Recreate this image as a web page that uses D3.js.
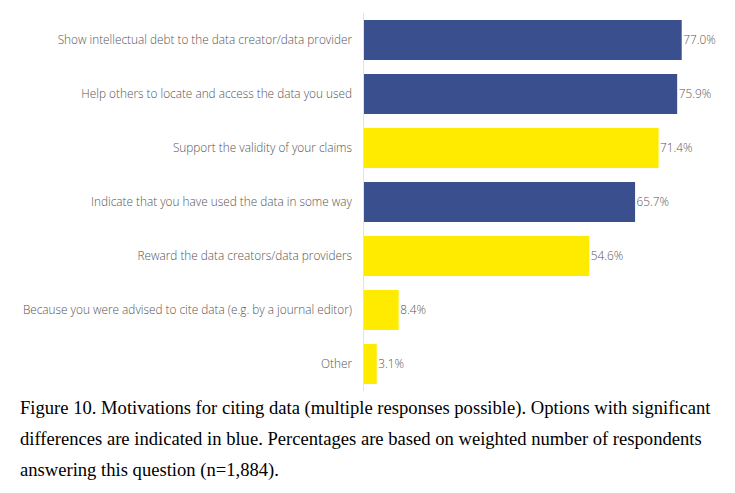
<!DOCTYPE html>
<html>
<head>
<meta charset="utf-8">
<script src="https://cdn.jsdelivr.net/npm/d3@7"></script>
<style>
  body { margin: 0; background: #fff; }
</style>
</head>
<body>
<div id="chart"></div>
<script>
// Motivations for citing data
const categories = [
  "Show intellectual debt to the data creator/data provider",
  "Help others to locate and access the data you used",
  "Support the validity of your claims",
  "Indicate that you have used the data in some way",
  "Reward the data creators/data providers",
  "Because you were advised to cite data (e.g. by a journal editor)",
  "Other"
];
const values = [77.0, 75.9, 71.4, 65.7, 54.6, 8.4, 3.1];
// true = significant difference (shown in blue)
const significant = [true, true, false, true, false, false, false];
const captionLines = [
  "Figure 10. Motivations for citing data (multiple responses possible). Options with significant",
  "differences are indicated in blue. Percentages are based on weighted number of respondents",
  "answering this question (n=1,884)."
];

const width = 735, height = 493;
const margin = {left: 364, top: 13, bottom: 102};

const svg = d3.select("#chart")
  .append("svg")
  .attr("width", width)
  .attr("height", height);

// x scale: 0..100% mapped from the axis line
const xScale = d3.scaleLinear()
  .domain([0, 100])
  .range([margin.left, margin.left + 412.6]);

const yScale = d3.scaleBand()
  .domain(categories)
  .range([margin.top, height - margin.bottom])
  .paddingInner(0.26)
  .paddingOuter(0.13);

// faint vertical axis line
svg.append("line")
  .attr("x1", margin.left - 0.5)
  .attr("x2", margin.left - 0.5)
  .attr("y1", margin.top)
  .attr("y2", height - margin.bottom)
  .attr("stroke", "#e3e3e3")
  .attr("stroke-width", 1);

const data = categories.map((c, i) => ({cat: c, value: values[i], sig: significant[i]}));

svg.selectAll("rect.bar")
  .data(data)
  .enter()
  .append("rect")
    .attr("class", "bar")
    .attr("x", xScale(0))
    .attr("y", d => yScale(d.cat))
    .attr("width", d => xScale(d.value) - xScale(0))
    .attr("height", yScale.bandwidth())
    .attr("fill", d => d.sig ? "#3a4f8e" : "#ffeb00");

// category labels
svg.selectAll("text.cat")
  .data(data)
  .enter()
  .append("text")
    .attr("class", "cat")
    .attr("x", margin.left - 12)
    .attr("y", d => yScale(d.cat) + yScale.bandwidth() / 2)
    .attr("dy", "0.35em")
    .attr("text-anchor", "end")
    .attr("font-family", "Open Sans, sans-serif")
    .attr("font-size", "11.8px")
    .attr("font-weight", 300)
    .attr("fill", "#555")
    .text(d => d.cat);

// value labels
svg.selectAll("text.val")
  .data(data)
  .enter()
  .append("text")
    .attr("class", "val")
    .attr("x", d => xScale(d.value) + 1.5)
    .attr("y", d => yScale(d.cat) + yScale.bandwidth() / 2)
    .attr("dy", "0.35em")
    .attr("font-family", "Open Sans, sans-serif")
    .attr("font-size", "11.8px")
    .attr("font-weight", 300)
    .attr("fill", "#555")
    .text(d => d.value.toFixed(1) + "%");

// caption
svg.selectAll("text.caption")
  .data(captionLines)
  .enter()
  .append("text")
    .attr("class", "caption")
    .attr("x", 20)
    .attr("y", (d, i) => 414 + i * 31)
    .attr("font-family", "Liberation Serif, Times New Roman, serif")
    .attr("font-size", "18.6px")
    .attr("fill", "#000")
    .text(d => d);
</script>
</body>
</html>
